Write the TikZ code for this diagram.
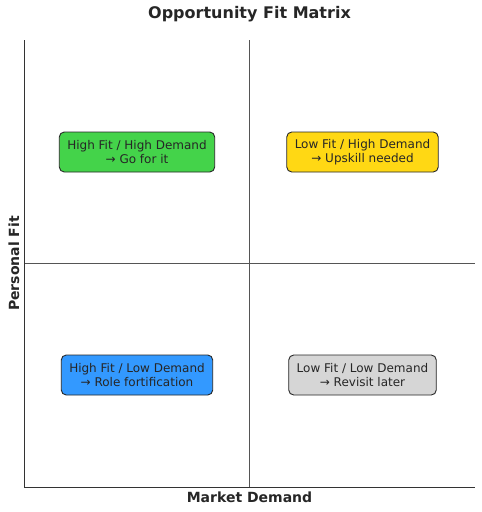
\documentclass[tikz,border=0pt]{standalone}
\usepackage{fontspec}
\setmainfont{DejaVu Sans}
\definecolor{qgreen}{HTML}{44D34A}
\definecolor{qyellow}{HTML}{FFD814}
\definecolor{qblue}{HTML}{3399FF}
\definecolor{qgray}{HTML}{D6D6D6}
\definecolor{txt}{HTML}{262626}
\definecolor{midline}{HTML}{555555}
\begin{document}
\begin{tikzpicture}[x=1pt,y=-1pt,
  quad/.style={draw=black!85, line width=0.9pt, rounded corners=5pt, align=center,
    font=\fontsize{12}{14}\selectfont, text=txt, inner xsep=8pt, minimum height=40pt},
  spine/.style={draw=black!80, line width=1pt},
  divider/.style={draw=midline, line width=1.2pt},
  lab/.style={font=\fontsize{14}{16}\selectfont\bfseries, text=txt}]
\useasboundingbox (0,0) rectangle (482,512);
\fill[white] (0,0) rectangle (482,512);
\coordinate (tl) at (24,40);
\coordinate (bl) at (24,487);
\coordinate (br) at (474.5,487);
\coordinate (vt) at (249.5,40);
\coordinate (vb) at (249.5,487);
\coordinate (hl) at (24,263.5);
\coordinate (hr) at (474.5,263.5);
\draw[divider] (vt) -- (vb);
\draw[divider] (hl) -- (hr);
\draw[spine] (tl) -- (bl) -- (br);
\node[quad, fill=qgreen] (hh) at (137,152) {High Fit / High Demand\\→ Go for it};
\node[quad, fill=qyellow] (lh) at (362.5,152) {Low Fit / High Demand\\→ Upskill needed};
\node[quad, fill=qblue] (hlw) at (137,375) {High Fit / Low Demand\\→ Role fortification};
\node[quad, fill=qgray] (ll) at (362.5,375) {Low Fit / Low Demand\\→ Revisit later};
\node[font=\fontsize{16}{18}\selectfont\bfseries, text=txt] (title) at (249.5,14) {Opportunity Fit Matrix};
\node[lab] (xl) at (249.5,497) {Market Demand};
\node[lab, rotate=90] (yl) at (14,263.5) {Personal Fit};
\end{tikzpicture}
\end{document}
